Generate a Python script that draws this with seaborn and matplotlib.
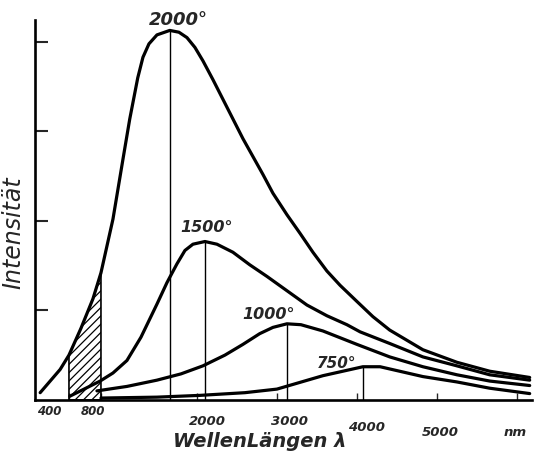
import numpy as np
import pandas as pd
import matplotlib
matplotlib.use("Agg")
import matplotlib.pyplot as plt
import matplotlib.transforms as mtransforms
import seaborn as sns

wl_2000 = [40, 290, 400, 550, 700, 800, 950, 1075, 1160, 1260, 1325, 1400, 1500, 1660,
           1775, 1875, 1975, 2075, 2200, 2325, 2575, 2825, 2950, 3125, 3290, 3450, 3625,
           3790, 4000, 4200, 4410, 4825, 5250, 5660, 6160]
int_2000 = [0.08, 0.34, 0.50, 0.80, 1.13, 1.42, 2.02, 2.69, 3.14, 3.60, 3.83, 3.98, 4.08, 4.13,
            4.11, 4.05, 3.94, 3.79, 3.58, 3.36, 2.92, 2.52, 2.31, 2.07, 1.86, 1.65, 1.44,
            1.28, 1.10, 0.93, 0.78, 0.56, 0.42, 0.32, 0.25]

wl_1500 = [410, 790, 950, 1125, 1300, 1500, 1625, 1750, 1850, 1950, 2100, 2250, 2450, 2660,
           2875, 3125, 3375, 3625, 3875, 4040, 4410, 4825, 5250, 5660, 6160]
int_1500 = [0.04, 0.21, 0.30, 0.44, 0.70, 1.07, 1.31, 1.52, 1.67, 1.74, 1.77, 1.74, 1.65, 1.51,
            1.38, 1.22, 1.06, 0.94, 0.84, 0.76, 0.63, 0.48, 0.38, 0.28, 0.22]

wl_1000 = [750, 1125, 1500, 1800, 2075, 2350, 2575, 2785, 2950, 3125, 3300, 3575, 4000,
           4410, 4825, 5250, 5660, 6160]
int_1000 = [0.10, 0.15, 0.22, 0.29, 0.38, 0.50, 0.62, 0.74, 0.81, 0.85, 0.84, 0.77, 0.62,
            0.48, 0.37, 0.28, 0.21, 0.16]

wl_750 = [800, 1500, 2040, 2600, 3000, 3575, 4075, 4290, 4825, 5250, 5660, 6160]
int_750 = [0.02, 0.03, 0.05, 0.08, 0.12, 0.27, 0.37, 0.37, 0.26, 0.20, 0.13, 0.07]

temps = ["2000°", "1500°", "1000°", "750°"]
tick_pos = [400, 800, 2000, 3000, 4000, 5000, 6000]
tick_lab = ["400", "800", "2000", "3000", "4000", "5000", "nm"]
visible = (400, 800)

series = {
    "2000°": (wl_2000, int_2000),
    "1500°": (wl_1500, int_1500),
    "1000°": (wl_1000, int_1000),
    "750°": (wl_750, int_750),
}
df = pd.concat(
    [pd.DataFrame({"wl": w, "I": i, "T": t}) for t, (w, i) in series.items()],
    ignore_index=True,
)

sns.set_style("white")
plt.rcParams["font.family"] = ["DejaVu Sans"]
plt.rcParams["hatch.linewidth"] = 0.9

fig = plt.figure(figsize=(5.38, 4.58), dpi=100)
ax = fig.add_axes([0.065, 0.127, 0.924, 0.830])

sns.lineplot(data=df, x="wl", y="I", hue="T", palette={t: "black" for t in temps},
             linewidth=2.3, legend=False, ax=ax)

# Lote von den Maxima und Beschriftung
label_style = {
    "2000°": dict(off=(6, 1), size=13),
    "1500°": dict(off=(1, 5), size=11.5),
    "1000°": dict(off=(-13, 1), size=11.5),
    "750°": dict(off=(-19, -3), size=11),
}
for t in temps:
    sub = df[df["T"] == t]
    pk = sub.loc[sub["I"].idxmax()]
    ax.vlines(pk["wl"], 0, pk["I"], color="black", linewidth=1)
    st = label_style[t]
    ax.annotate(t, xy=(pk["wl"], pk["I"]), xytext=st["off"], textcoords="offset points",
                ha="center", va="bottom", fontsize=st["size"], fontstyle="italic",
                fontweight="bold")

# sichtbarer Bereich schraffiert
s2000 = df[df["T"] == "2000°"]
m = (s2000["wl"] >= visible[0]) & (s2000["wl"] <= visible[1])
ax.fill_between(s2000["wl"][m], 0, s2000["I"][m], facecolor="none", edgecolor="black",
                hatch="////", linewidth=1.2)

ax.set_xlim(-25, 6190)
ax.set_ylim(0, 4.25)

ax.set_xticks(tick_pos, tick_lab)
ax.tick_params(axis="x", bottom=True, direction="in", length=5, width=1, labelsize=9.5)
# handgezeichnete Beschriftung sitzt etwas versetzt
pads = [4, 4, 11, 11, 15, 19, 19]
shifts = [-20, -8, 10, 13, 10, 3, -2]
for tk, p in zip(ax.xaxis.get_major_ticks(), pads):
    tk.set_pad(p)
for i, lab in enumerate(ax.get_xticklabels()):
    lab.set_fontstyle("italic")
    lab.set_fontweight("bold")
    if i < 2:
        lab.set_fontsize(8.5)
    off = mtransforms.ScaledTranslation(shifts[i] / 100, 0, fig.dpi_scale_trans)
    lab.set_transform(lab.get_transform() + off)

ax.set_yticks([1, 2, 3, 4], [])
ax.tick_params(axis="y", left=True, direction="in", length=9, width=1.5)

for side in ["top", "right"]:
    ax.spines[side].set_visible(False)
for side in ["left", "bottom"]:
    ax.spines[side].set_color("black")
    ax.spines[side].set_linewidth(1.9)

ax.set_xlabel("WellenLängen λ", fontsize=14, fontstyle="italic", fontweight="bold")
ax.xaxis.set_label_coords(0.453, -0.084)
ax.set_ylabel("Intensität", fontsize=17, fontstyle="italic")
ax.yaxis.set_label_coords(-0.02, 0.44)

fig.savefig("out.png", dpi=100)
